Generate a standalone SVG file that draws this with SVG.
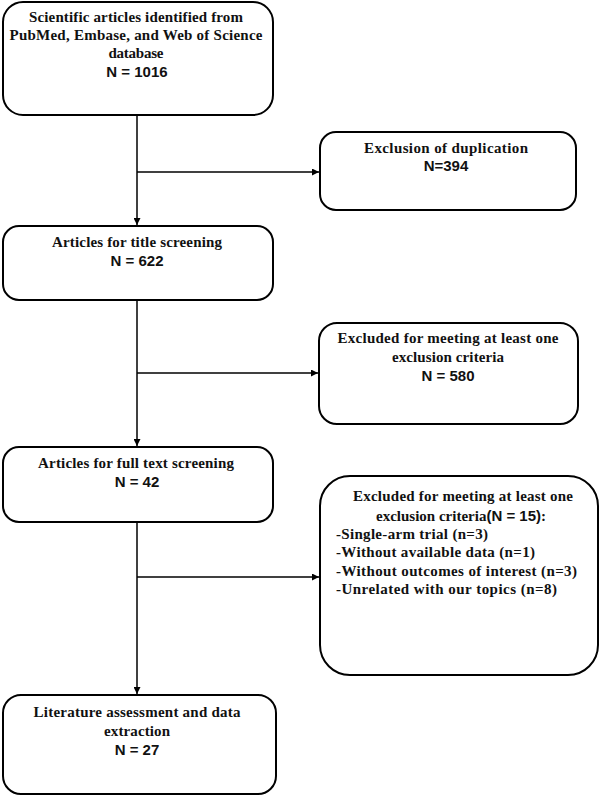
<svg xmlns="http://www.w3.org/2000/svg" width="600" height="796" viewBox="0 0 600 796">
<style>
.box{fill:#fff;stroke:#000;stroke-width:2}
.t{font-family:"Liberation Serif","Times New Roman",serif;font-weight:bold;font-size:15px;fill:#111;text-anchor:middle}
.l{font-family:"Liberation Serif","Times New Roman",serif;font-weight:bold;font-size:15px;fill:#111}
.n{font-family:"Liberation Sans",Arial,sans-serif;font-weight:bold;font-size:15px;fill:#111;text-anchor:middle}
.c{fill:none;stroke:#000;stroke-width:1.5}
</style>
<defs>
<marker id="ah" viewBox="0 0 10 10" refX="10" refY="5" markerWidth="7" markerHeight="7" orient="auto" markerUnits="userSpaceOnUse"><path d="M0,0 L10,5 L0,10 z" fill="#000"/></marker>
</defs>
<rect width="600" height="796" fill="#fff"/>
<g id="connectors">
<line class="c" x1="137" y1="115" x2="137" y2="225" marker-end="url(#ah)"/>
<line class="c" x1="137" y1="172" x2="319" y2="172" marker-end="url(#ah)"/>
<line class="c" x1="137" y1="300" x2="137" y2="446" marker-end="url(#ah)"/>
<line class="c" x1="137" y1="373" x2="318" y2="373" marker-end="url(#ah)"/>
<line class="c" x1="137" y1="522" x2="137" y2="694" marker-end="url(#ah)"/>
<line class="c" x1="137" y1="577" x2="319" y2="577" marker-end="url(#ah)"/>
</g>
<g id="n1">
<rect class="box" x="3" y="2" width="270" height="113" rx="20"/>
<text class="t" x="136" y="22" textLength="214" lengthAdjust="spacing">Scientific articles identified from</text>
<text class="t" x="136" y="40" textLength="253" lengthAdjust="spacing">PubMed, Embase, and Web of Science</text>
<text class="t" x="136" y="58" textLength="55" lengthAdjust="spacing">database</text>
<text class="n" x="137" y="77">N = 1016</text>
</g>
<g id="n2">
<rect class="box" x="320" y="132" width="256" height="78" rx="16"/>
<text class="t" x="446" y="153" textLength="164" lengthAdjust="spacing">Exclusion of duplication</text>
<text class="n" x="446" y="171">N=394</text>
</g>
<g id="n3">
<rect class="box" x="3" y="226" width="270" height="74" rx="16"/>
<text class="t" x="137" y="247" textLength="170" lengthAdjust="spacing">Articles for title screening</text>
<text class="n" x="137" y="266">N = 622</text>
</g>
<g id="n4">
<rect class="box" x="319" y="323" width="259" height="101" rx="18"/>
<text class="t" x="448" y="343" textLength="221" lengthAdjust="spacing">Excluded for meeting at least one</text>
<text class="t" x="448" y="362" textLength="112" lengthAdjust="spacing">exclusion criteria</text>
<text class="n" x="448" y="381">N = 580</text>
</g>
<g id="n5">
<rect class="box" x="3" y="447" width="270" height="75" rx="16"/>
<text class="t" x="136" y="468" textLength="196" lengthAdjust="spacing">Articles for full text screening</text>
<text class="n" x="137" y="487">N = 42</text>
</g>
<g id="n6">
<rect class="box" x="320" y="476" width="278" height="199" rx="30"/>
<text class="t" x="463" y="501" textLength="220" lengthAdjust="spacing">Excluded for meeting at least one</text>
<text class="l" x="376" y="521">exclusion criteria<tspan font-family="Liberation Sans, Arial, sans-serif" font-size="15">(N = 15)</tspan>:</text>
<text class="l" x="336" y="539" textLength="152" lengthAdjust="spacing">-Single-arm trial (n=3)</text>
<text class="l" x="336" y="557" textLength="199" lengthAdjust="spacing">-Without available data (n=1)</text>
<text class="l" x="336" y="576" textLength="241" lengthAdjust="spacing">-Without outcomes of interest (n=3)</text>
<text class="l" x="336" y="594" textLength="221" lengthAdjust="spacing">-Unrelated with our topics (n=8)</text>
</g>
<g id="n7">
<rect class="box" x="3" y="695" width="273" height="99" rx="18"/>
<text class="t" x="137" y="717" textLength="207" lengthAdjust="spacing">Literature assessment and data</text>
<text class="t" x="137" y="736" textLength="66" lengthAdjust="spacing">extraction</text>
<text class="n" x="137" y="755">N = 27</text>
</g>
</svg>
